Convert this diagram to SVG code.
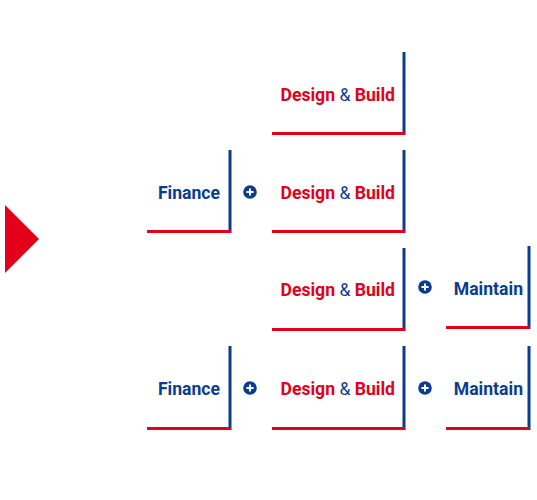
<svg xmlns="http://www.w3.org/2000/svg" width="537" height="500" viewBox="0 0 537 500">
<defs>
<style>
.t{font-family:Roboto,"Liberation Sans",sans-serif;font-weight:700;font-size:17.6px;}
.r{fill:#e2001a;}
.b{fill:#0a3d8f;}
.amp{font-weight:400;fill:#0a3d8f;}
.v{stroke:#0a3d8f;stroke-width:3;fill:none;}
.h{stroke:#e2001a;stroke-width:3;fill:none;}
.pc{fill:#0a3d8f;}
.pl{stroke:#fff;stroke-width:2;}
</style>
<g id="plus">
<circle r="6.8" class="pc"/>
<line x1="-3.6" y1="0" x2="3.6" y2="0" class="pl"/>
<line x1="0" y1="-3.6" x2="0" y2="3.6" class="pl"/>
</g>
</defs>
<rect width="537" height="500" fill="#fff"/>
<polygon id="pointer" points="5,205 39,239 5,273" fill="#e2001a"/>

<g id="db1">
<line x1="404" y1="52" x2="404" y2="135" class="v"/>
<line x1="272" y1="133.5" x2="405" y2="133.5" class="h"/>
<text x="395" y="101" text-anchor="end" class="t r">Design <tspan class="amp">&amp;</tspan> Build</text>
</g>

<g id="fin2">
<line x1="230" y1="150" x2="230" y2="233" class="v"/>
<line x1="147" y1="231.5" x2="231" y2="231.5" class="h"/>
<text x="220" y="199" text-anchor="end" class="t b">Finance</text>
</g>
<g id="db2">
<line x1="404" y1="150" x2="404" y2="233" class="v"/>
<line x1="272" y1="231.5" x2="405" y2="231.5" class="h"/>
<text x="395" y="199" text-anchor="end" class="t r">Design <tspan class="amp">&amp;</tspan> Build</text>
</g>

<g id="db3">
<line x1="404" y1="248" x2="404" y2="331" class="v"/>
<line x1="272" y1="329.5" x2="405" y2="329.5" class="h"/>
<text x="395" y="296" text-anchor="end" class="t r">Design <tspan class="amp">&amp;</tspan> Build</text>
</g>
<g id="mt3">
<line x1="529" y1="246" x2="529" y2="329" class="v"/>
<line x1="446" y1="327.5" x2="530" y2="327.5" class="h"/>
<text x="523" y="295" text-anchor="end" class="t b">Maintain</text>
</g>

<g id="fin4">
<line x1="230" y1="346" x2="230" y2="430" class="v"/>
<line x1="147" y1="428.5" x2="231" y2="428.5" class="h"/>
<text x="220" y="395" text-anchor="end" class="t b">Finance</text>
</g>
<g id="db4">
<line x1="404" y1="346" x2="404" y2="430" class="v"/>
<line x1="272" y1="428.5" x2="405" y2="428.5" class="h"/>
<text x="395" y="395" text-anchor="end" class="t r">Design <tspan class="amp">&amp;</tspan> Build</text>
</g>
<g id="mt4">
<line x1="529" y1="346" x2="529" y2="430" class="v"/>
<line x1="446" y1="428.5" x2="530" y2="428.5" class="h"/>
<text x="523" y="395" text-anchor="end" class="t b">Maintain</text>
</g>

<g id="connectors">
<use href="#plus" x="250" y="192"/>
<use href="#plus" x="425" y="287"/>
<use href="#plus" x="250" y="388"/>
<use href="#plus" x="425" y="388"/>
</g>
</svg>
